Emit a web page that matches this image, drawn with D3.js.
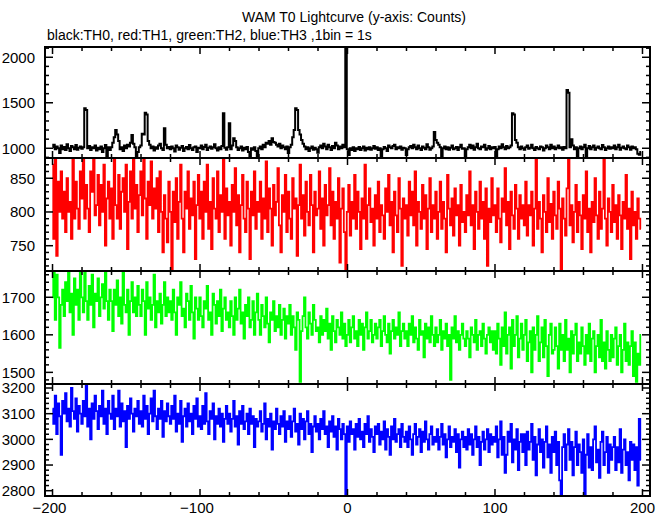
<!DOCTYPE html>
<html><head><meta charset="utf-8">
<script src="https://cdn.jsdelivr.net/npm/d3@7"></script>
<style>body{margin:0;background:#fff}svg{display:block}text{font-family:"Liberation Sans",Arial,sans-serif;fill:#000}</style>
</head><body><svg id="c" width="669" height="515"></svg>
<script>
const binStart = -200, binSize = 1;
const title = "WAM T0 Lightcurve (y-axis: Counts)";
const subtitle = "black:TH0, red:TH1, green:TH2, blue:TH3 ,1bin = 1s";
const xTickLabels = [-200, -100, 0, 100, 200];

const th0 = [
1010,1040,990,1020,1000,947,1030,990,1015,980,1045,1000,970,1025,1010,990,1035,985,1005,1020,
995,1010,1440,1420,1000,1025,980,1010,1000,1030,975,1005,990,1020,960,1000,1035,890,1010,980,
1010,1060,1120,1200,1150,1080,990,1010,970,1030,1000,1040,1020,1060,1145,1050,1010,890,960,1010,
1030,1160,1150,1390,1370,1080,1040,1000,1020,975,1010,995,1030,1050,1000,980,1220,1040,1000,1015,
990,1020,1000,965,1030,1010,985,1005,1025,970,1000,1015,990,1035,1000,980,1010,1020,960,1005,
1000,1030,990,1015,1040,980,1005,1020,995,1010,1045,1000,975,1010,990,1025,1385,1005,985,1010,
1275,990,1030,1110,1080,1010,980,1000,1020,975,1005,990,1015,960,908,1000,985,1010,970,908,
1000,1020,990,1040,1010,1060,1050,1080,1040,1110,1070,1060,1040,1020,1050,1000,1030,1010,990,1020,
948,1010,1040,1120,1200,1440,1420,1200,1150,1090,1050,1020,990,1010,970,1000,1020,985,1005,990,
950,1010,1030,1000,1050,1020,990,1040,1010,980,1025,1000,1060,1030,990,1020,1000,1040,1010,2200,
990,925,1000,980,1010,970,1000,990,1015,980,1000,1020,975,1005,990,1010,985,1000,1025,995,
1010,980,1000,893,990,1015,1000,970,1030,1010,1000,1025,1040,990,1010,1000,1020,985,1005,1000,
925,990,1010,1025,1000,1040,1010,990,1030,1000,980,1020,1005,990,1045,1010,985,1000,1020,1180,
1090,1060,1040,1010,895,1000,1020,990,1010,985,1005,1030,990,1000,1015,980,1010,1040,995,1000,
900,990,1010,1040,1000,1030,985,1010,1050,1000,990,1020,1010,1040,985,1000,1025,990,1010,1000,
1015,893,990,1020,1000,1045,1010,990,1025,1000,1010,1030,1385,1370,1090,1060,1010,990,1020,1000,
985,1010,1030,995,1005,1040,1000,980,1015,1000,990,1020,1010,975,1000,1030,1010,990,1040,1000,
1020,990,1005,1030,1000,1010,985,1015,1000,1640,1610,1010,1100,1030,990,1010,893,1000,1020,990,
1010,1040,900,1000,1025,990,1010,1030,985,1005,1020,1000,990,1035,1010,980,1000,1020,995,1010,
1000,1030,990,1010,1040,985,1005,1020,1000,990,1030,1010,985,1020,1000,1010,990,940,930,960
];
const th1 = [
870,760,880,735,845,800,860,790,830,770,850,800,815,760,880,790,845,805,775,860,
820,880,790,840,805,770,860,830,880,795,810,855,780,840,800,870,750,820,845,790,
835,760,880,810,790,855,775,830,850,800,870,745,815,860,790,880,805,840,770,825,
860,795,880,820,760,845,810,875,790,835,805,850,770,860,800,740,825,790,755,845,
800,712,830,785,850,760,815,870,790,740,830,805,860,775,820,795,845,730,810,855,
790,830,760,845,800,870,775,815,745,850,805,790,860,770,825,800,880,760,835,795,
815,750,840,800,865,780,825,740,810,855,790,770,845,805,730,830,795,860,775,815,
800,845,760,820,790,875,770,835,805,750,840,795,815,865,780,740,825,800,855,770,
830,790,760,850,805,820,735,810,870,790,825,765,845,800,780,855,810,740,830,795,
805,860,775,820,750,840,795,810,865,780,830,760,815,790,850,725,805,835,770,712,
800,840,765,815,790,855,775,830,800,745,820,790,870,760,810,835,785,805,750,825,
790,845,770,810,795,760,835,800,855,780,815,740,830,795,770,850,805,720,820,790,
810,765,845,795,830,780,860,750,815,800,775,840,790,825,745,805,850,770,810,790,
830,760,800,845,775,815,790,740,855,805,780,820,765,835,795,810,750,840,785,800,
770,825,795,860,780,810,745,830,800,775,845,790,815,760,835,720,805,785,850,795,
810,770,835,790,755,820,800,865,780,815,745,830,795,775,840,805,760,825,790,810,
780,845,765,810,795,830,750,805,880,775,815,790,740,825,800,770,850,785,812,760,
830,795,775,845,805,712,820,790,765,835,880,780,810,755,800,840,770,815,795,745,
825,790,860,770,805,740,815,785,850,795,760,830,775,805,880,790,750,820,800,770,
840,785,810,760,825,795,745,815,790,855,775,805,730,830,780,800,760,820,790,775
];
const th2 = [
1700,1770,1640,1760,1700,1565,1680,1720,1650,1740,1690,1770,1660,1710,1600,1750,1680,1720,1640,1770,
1700,1660,1770,1690,1640,1730,1680,1760,1620,1710,1690,1750,1650,1700,1735,1670,1770,1690,1640,1720,
1690,1610,1720,1680,1745,1650,1700,1630,1770,1680,1660,1720,1600,1690,1740,1660,1700,1650,1730,1680,
1650,1720,1690,1600,1740,1670,1700,1640,1680,1760,1620,1690,1660,1710,1630,1680,1740,1650,1700,1660,
1690,1640,1720,1660,1600,1700,1680,1740,1650,1670,1620,1710,1690,1640,1730,1660,1590,1700,1670,1640,
1700,1650,1620,1690,1670,1730,1640,1660,1600,1710,1680,1630,1690,1650,1720,1610,1670,1700,1640,1660,
1620,1690,1650,1600,1700,1640,1670,1720,1630,1660,1590,1680,1650,1700,1620,1640,1690,1600,1660,1710,
1640,1600,1680,1650,1620,1700,1630,1580,1660,1640,1690,1610,1650,1620,1680,1600,1640,1670,1590,1650,
1630,1680,1600,1650,1620,1560,1660,1640,1475,1610,1650,1700,1620,1590,1660,1630,1600,1680,1640,1610,
1620,1580,1650,1600,1640,1610,1670,1590,1630,1560,1650,1610,1580,1640,1620,1600,1660,1590,1630,1570,
1600,1640,1580,1620,1650,1590,1610,1570,1640,1600,1630,1560,1620,1660,1590,1610,1640,1580,1600,1630,
1590,1620,1640,1570,1610,1650,1600,1580,1630,1550,1610,1640,1590,1620,1600,1660,1570,1610,1630,1590,
1610,1570,1630,1600,1650,1580,1620,1590,1560,1640,1600,1610,1540,1630,1590,1620,1580,1650,1600,1570,
1620,1580,1600,1640,1560,1610,1590,1630,1570,1600,1480,1620,1590,1650,1580,1610,1560,1600,1630,1590,
1570,1610,1590,1540,1620,1600,1580,1640,1560,1600,1610,1570,1630,1590,1550,1600,1620,1580,1610,1560,
1610,1550,1630,1590,1520,1620,1570,1660,1550,1600,1620,1510,1640,1570,1600,1650,1540,1590,1630,1560,
1600,1640,1530,1580,1610,1500,1620,1560,1600,1650,1530,1580,1620,1540,1640,1570,1490,1600,1630,1550,
1560,1620,1570,1510,1630,1560,1600,1530,1640,1560,1590,1500,1610,1550,1600,1630,1530,1580,1550,1620,
1570,1520,1600,1550,1630,1530,1590,1610,1500,1570,1600,1540,1640,1530,1580,1510,1610,1560,1530,1600,
1540,1590,1620,1520,1570,1600,1500,1560,1630,1530,1580,1520,1570,1610,1490,1580,1475,1550,1520,1600
];
const th3 = [
3120,3060,3170,3020,3140,3090,2940,3150,3100,3180,3070,3120,3050,3200,3110,3080,3160,3030,3130,3100,
3060,3150,3090,3210,3050,3120,3000,3140,3080,3170,3110,3040,3130,3090,3190,3060,3120,3020,3150,3100,
3080,3170,3040,3120,3090,3190,3050,3140,3070,3110,2970,3130,3080,3160,3100,3030,3120,3090,3150,3060,
3110,3050,3170,3080,3130,3020,3100,3160,3070,3190,3090,3040,3120,3080,3150,3010,3110,3070,3140,3090,
3060,3130,3080,3170,3030,3100,3060,3150,2990,3090,3120,3050,3140,3070,3100,3020,3130,3080,3160,3050,
3090,3040,3130,3060,3180,3070,3020,3110,3080,3140,3000,3090,3060,3120,3050,3100,2990,3080,3130,3060,
3100,3030,3080,3150,3050,3090,2980,3110,3060,3130,3040,3070,3100,3020,3120,3060,3090,2970,3080,3050,
3070,3110,3030,3060,3140,3000,3080,3050,3100,2960,3070,3040,3120,3060,3020,3090,3050,3110,2990,3070,
3040,3090,3010,3070,3120,3030,3060,2980,3100,3040,3080,3000,3070,3110,3020,3060,2950,3050,3090,3030,
3060,3000,3080,3040,3110,3020,3050,2970,3070,3030,3090,3010,3050,2960,3080,3040,3000,3060,3020,2780,
3050,2990,3070,3020,3040,2960,3060,3010,3080,3000,3030,2970,3060,3020,3090,2990,3040,3010,2950,3050,
3020,3060,2980,3030,3000,3070,2960,3040,3010,2940,3050,3000,3080,2990,3020,3040,2970,3060,3010,2990,
3030,2970,3050,3000,2940,3020,3060,2980,3010,3040,2950,3030,2990,3070,3000,2960,3020,3050,2980,3010,
2990,3040,2960,3010,3060,2980,3020,2930,3000,3050,2970,3010,2990,3040,2950,3020,2890,3000,3030,2970,
3010,2960,3040,2980,3020,2940,3000,3050,2970,3010,2900,2990,3030,2960,3000,3040,2950,3020,2980,3010,
2990,3050,2930,3000,3070,2940,3010,2870,2940,3030,2990,3060,2910,3000,2960,3040,2880,2990,3020,2950,
3020,2900,3030,2960,2990,3060,2920,3010,2860,2980,3040,2950,3000,2890,2990,3050,2930,2980,2870,3010,
2950,3030,2900,2990,2840,2780,2970,3020,2880,2980,3040,2920,2990,2860,2970,3030,2900,2980,2950,2870,
3000,2780,2940,3020,2890,2970,2880,3000,3050,2910,2960,2850,2990,3030,2900,2950,3010,2870,2980,2920,
2970,3010,2880,2970,2910,3040,2870,2960,3000,2900,2950,2840,2990,2920,2980,2880,2970,2820,3080,2920
];

const series = [th0, th1, th2, th3];
const colors = ["#000000", "#ff0000", "#00ff00", "#0000ff"];
const yDomains = [[893, 2113], [712.5, 880], [1469, 1770], [2779.4, 3215.6]];
const yLabelTicks = [[1000, 1500, 2000], [750, 800, 850], [1500, 1600, 1700], [2800, 2900, 3000, 3100, 3200]];
const yMinorStep = [100, 10, 20, 20];
const panelEdges = [47, 158, 271, 384, 496];

const svg = d3.select("#c");
const L = 45, R = 650;
const x = d3.scaleLinear().domain([-205.1, 205.1]).range([L, R]);

svg.append("text").attr("x", 354).attr("y", 22).attr("text-anchor", "middle")
  .style("font-size", "14px").text(title);
svg.append("text").attr("x", 47).attr("y", 40)
  .style("font-size", "14px").text(subtitle);

const defs = svg.append("defs");
const xMinor = d3.range(-200, 201, 20);

series.forEach((vals, p) => {
  const top = panelEdges[p], bot = panelEdges[p + 1];
  const y = d3.scaleLinear().domain(yDomains[p]).range([bot, top]);
  defs.append("clipPath").attr("id", "clip" + p).append("rect")
    .attr("x", L).attr("y", top).attr("width", R - L).attr("height", bot - top);
  const line = d3.line().curve(d3.curveStep)
    .x((d, i) => x(binStart + i * binSize)).y(d => y(d));
  svg.append("path").datum(vals).attr("clip-path", "url(#clip" + p + ")")
    .attr("fill", "none").attr("stroke", colors[p])
    .attr("stroke-width", p === 0 ? 2 : 1.8).attr("d", line);

  const g = svg.append("g").attr("stroke", "#000");
  xMinor.forEach(v => {
    const len = (v % 100 === 0) ? 7 : 4;
    const px = x(v);
    g.append("line").attr("x1", px).attr("x2", px).attr("y1", top).attr("y2", top + len).attr("stroke-width", 1.5);
    g.append("line").attr("x1", px).attr("x2", px).attr("y1", bot).attr("y2", bot - len).attr("stroke-width", 1.5);
  });
  const [d0, d1] = yDomains[p];
  const step = yMinorStep[p];
  d3.range(Math.ceil(d0 / step) * step, d1, step).forEach(v => {
    const major = yLabelTicks[p].includes(v);
    const len = major ? 8 : 4;
    const py = y(v);
    g.append("line").attr("x1", L).attr("x2", L + len).attr("y1", py).attr("y2", py).attr("stroke-width", 1.5);
    g.append("line").attr("x1", R).attr("x2", R - len).attr("y1", py).attr("y2", py).attr("stroke-width", 1.5);
  });
  yLabelTicks[p].forEach(v => {
    svg.append("text").attr("x", 35).attr("y", y(v)).attr("dy", "0.36em")
      .attr("text-anchor", "end").style("font-size", "15px").text(v);
  });
  svg.append("rect").attr("x", L).attr("y", top).attr("width", R - L).attr("height", bot - top)
    .attr("fill", "none").attr("stroke", "#000").attr("stroke-width", 2);
});

xTickLabels.forEach(v => {
  svg.append("text").attr("x", x(v) + (v < 0 ? -3 : 0)).attr("y", 513).attr("text-anchor", "middle")
    .style("font-size", "15px").text(v < 0 ? "\u2212" + Math.abs(v) : String(v));
});
</script></body></html>
